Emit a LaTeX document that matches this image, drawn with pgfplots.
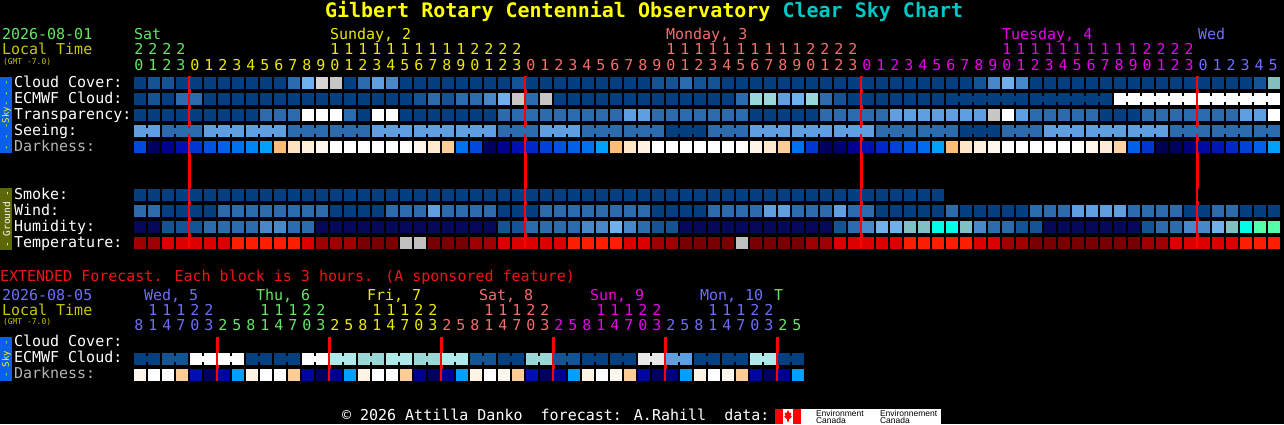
\documentclass[border=0pt]{standalone}
\usepackage{pgfplots}
\pgfplotsset{compat=1.18}
\usepackage{pgfplotstable}
\usepackage{fontspec}
\setmainfont{DejaVu Sans Mono}
\newfontfamily\logofont{Liberation Sans}
\newcommand\fs[1]{\fontsize{#1}{#1}\selectfont}

\definecolor{cD0}{RGB}{4,64,128}
\definecolor{cD1}{RGB}{20,84,148}
\definecolor{cD2}{RGB}{44,108,172}
\definecolor{cD3}{RGB}{72,136,200}
\definecolor{cD4}{RGB}{95,159,223}
\definecolor{cD5}{RGB}{112,176,236}
\definecolor{cTL}{RGB}{128,192,192}
\definecolor{cCY}{RGB}{154,216,216}
\definecolor{cLC}{RGB}{174,234,234}
\definecolor{cG7}{RGB}{198,198,198}
\definecolor{cG8}{RGB}{214,214,214}
\definecolor{cG9}{RGB}{232,232,232}
\definecolor{cNV}{RGB}{8,8,90}
\definecolor{cAQ}{RGB}{0,255,230}
\definecolor{cMN}{RGB}{84,255,170}
\definecolor{cTM}{RGB}{120,0,0}
\definecolor{cTD}{RGB}{160,0,0}
\definecolor{cTR}{RGB}{220,0,0}
\definecolor{cTB}{RGB}{255,30,0}
\definecolor{cTG}{RGB}{192,192,192}
\definecolor{satc}{RGB}{100,230,100}
\definecolor{sunc}{RGB}{235,235,0}
\definecolor{monc}{RGB}{245,110,110}
\definecolor{tuec}{RGB}{235,0,235}
\definecolor{wedc}{RGB}{110,110,250}
\definecolor{locc}{RGB}{200,200,0}
\definecolor{ttly}{RGB}{255,255,0}
\definecolor{ttlc}{RGB}{0,200,200}
\definecolor{skyb}{RGB}{10,96,235}
\definecolor{grnd}{RGB}{92,104,8}
\definecolor{extr}{RGB}{240,20,20}
\definecolor{dkl}{RGB}{180,180,180}

\pgfdeclareplotmark{blk}{\pgfpathrectangle{\pgfpoint{-6pt}{-6pt}}{\pgfpoint{12pt}{12pt}}\pgfusepath{fill}}
\pgfdeclareplotmark{con}{\pgfpathrectangle{\pgfpoint{-2.5pt}{-3pt}}{\pgfpoint{5pt}{6pt}}\pgfusepath{fill}}

% hourly forecast, column x = hour index (0 = Sat 20:00)
\pgfplotstableread{
x cc ec tr se dk sm wi hu te
0 D0 D0 D0 D4 25 D0 D2 NV TD
1 D1 D1 D0 D4 5 D0 D2 NV TD
2 D1 D0 D0 D2 10 D0 D0 D1 TR
3 D0 D2 D0 D2 15 D0 D0 D1 TR
4 D0 D2 D0 D2 22 D0 D0 D1 TR
5 D0 D0 D0 D4 27 D0 D0 D2 TR
6 D0 D0 D0 D4 30 D0 D2 D2 TR
7 D0 D0 D0 D4 33 D0 D2 D2 TB
8 D0 D0 D0 D4 36 D0 D2 D2 TB
9 D0 D0 D2 D4 40 D0 D2 D3 TB
10 D0 D0 D2 D4 55 D0 D2 D3 TB
11 D2 D0 D2 D2 70 D0 D2 D2 TB
12 D5 D0 W D2 80 D0 D2 D2 TR
13 G8 D0 W D2 90 D0 D2 NV TD
14 G7 D0 W D2 100 D0 D0 NV TD
15 D0 D0 D2 D2 100 D0 D0 NV TD
16 D2 D0 D0 D2 100 D0 D0 NV TM
17 D4 D0 W D4 100 D0 D0 NV TM
18 D3 D0 W D4 100 D0 D2 NV TM
19 D0 D0 D0 D4 100 D0 D2 NV TG
20 D0 D1 D0 D4 90 D0 D2 NV TG
21 D0 D2 D0 D4 75 D0 D4 NV TM
22 D0 D1 D0 D4 60 D0 D2 NV TM
23 D0 D2 D0 D4 33 D0 D2 NV TM
24 D0 D2 D0 D4 25 D0 D2 NV TD
25 D0 D3 D0 D4 5 D0 D2 NV TD
26 D0 D5 D2 D2 10 D0 D0 D1 TR
27 D1 G7 D2 D2 15 D0 D0 D1 TR
28 D0 D2 D2 D2 20 D0 D0 D2 TR
29 D0 G7 D2 D4 24 D0 D2 D2 TR
30 D0 D0 D2 D4 27 D0 D2 D2 TR
31 D0 D0 D2 D4 30 D0 D2 D2 TB
32 D0 D0 D2 D2 33 D0 D2 D3 TB
33 D0 D0 D2 D2 40 D0 D2 D3 TB
34 D0 D0 D2 D2 55 D0 D2 D5 TB
35 D0 D0 D4 D2 72 D0 D2 D3 TR
36 D0 D0 D4 D2 85 D0 D2 D2 TR
37 D1 D0 D2 D2 100 D0 D0 D1 TD
38 D1 D0 D2 D0 100 D0 D0 D1 TD
39 D2 D0 D2 D0 100 D0 D0 NV TM
40 D1 D0 D2 D0 100 D0 D0 NV TM
41 D1 D0 D2 D2 100 D0 D2 NV TM
42 D0 D0 D2 D2 100 D0 D2 NV TM
43 D0 D2 D2 D2 100 D0 D2 NV TG
44 D0 CY D0 D4 88 D0 D2 NV TM
45 D0 CY D0 D4 75 D0 D4 NV TM
46 D0 D4 D0 D4 60 D0 D4 NV TM
47 D0 D5 D0 D4 33 D0 D2 NV TM
48 D0 CY D0 D4 22 D0 D2 NV TD
49 D0 D2 D2 D4 5 D0 D2 NV TD
50 D0 D1 D2 D4 7 D0 D4 D1 TR
51 D0 D0 D2 D4 10 D0 D2 D2 TR
52 D0 D0 D2 D4 15 D0 D2 D3 TR
53 D0 D0 D2 D2 20 D0 D0 D5 TR
54 D0 D0 D4 D2 24 D0 D0 D5 TR
55 D0 D0 D4 D2 27 D0 D0 TL TB
56 D0 D0 D4 D2 32 D0 D0 TL TB
57 D0 D0 D4 D2 40 D0 D0 AQ TB
58 D0 D0 D4 D2 55 N D2 AQ TB
59 D0 D0 D4 D0 72 N D0 TL TB
60 D1 D0 D4 D0 82 N D0 D3 TR
61 D3 D0 G7 D0 90 N D0 D2 TR
62 D5 D0 W D2 100 N D0 D2 TD
63 D3 D0 D4 D2 100 N D0 D1 TD
64 D0 D0 D2 D2 100 N D2 D1 TM
65 D0 D0 D2 D4 100 N D2 NV TM
66 D0 D0 D2 D4 100 N D2 NV TM
67 D0 D0 D2 D4 100 N D4 NV TM
68 D0 D0 D2 D4 90 N D4 NV TM
69 D0 D0 D0 D4 78 N D4 NV TM
70 D0 W D0 D4 62 N D4 NV TM
71 D0 W D0 D4 30 N D2 NV TM
72 D0 W D2 D4 22 N D2 D1 TD
73 D0 W D2 D4 3 N D2 D2 TD
74 D0 W D2 D2 5 N D2 D2 TR
75 D0 W D2 D2 8 N D0 D3 TR
76 D0 W D2 D2 13 N D0 D3 TR
77 D0 W D2 D2 16 N D2 D5 TR
78 D0 W D2 D2 20 N D2 TL TR
79 D0 W D4 D2 24 N D0 AQ TB
80 D1 W D4 D2 30 N D0 MN TB
81 TL W W D2 40 N D0 MN TB
}\main

% extended forecast, column k = 3-hour block (0 = Wed 5, 08:00)
\pgfplotstableread{
k ec dk
0 D0 90
1 D0 100
2 D1 100
3 D1 60
4 W 15
5 W 5
6 W 12
7 W 40
8 D0 85
9 D0 100
10 D0 100
11 D0 60
12 W 12
13 W 5
14 LC 10
15 LC 40
16 CY 85
17 CY 100
18 LC 100
19 LC 60
20 CY 10
21 CY 5
22 LC 10
23 LC 40
24 D1 85
25 D1 100
26 D0 90
27 D0 60
28 CY 15
29 CY 5
30 D1 10
31 D1 40
32 D0 85
33 D0 100
34 D0 90
35 D0 60
36 G9 12
37 G9 5
38 D4 8
39 D4 40
40 D0 85
41 D0 100
42 D0 90
43 D0 60
44 LC 12
45 LC 5
46 D0 10
47 D0 40
}\ext

\pgfplotsset{
  cls/.style={scatter, only marks, point meta=explicit symbolic,
    scatter/classes={D0={fill=cD0},D1={fill=cD1},D2={fill=cD2},D3={fill=cD3},
      D4={fill=cD4},D5={fill=cD5},TL={fill=cTL},CY={fill=cCY},LC={fill=cLC},
      G7={fill=cG7},G8={fill=cG8},G9={fill=cG9},W={fill=white},NV={fill=cNV},
      AQ={fill=cAQ},MN={fill=cMN},TM={fill=cTM},TD={fill=cTD},TR={fill=cTR},
      TB={fill=cTB},TG={fill=cTG},N={fill=black}}},
  dkp/.style={scatter, only marks, mark=blk, point meta=explicit},
  midn/.style={draw=red, line width=2.8pt},
}

\begin{document}
\begin{tikzpicture}
\begin{axis}[
  scale only axis, width=1284pt, height=424pt,
  xmin=-10, xmax=81.7142857, ymin=0, ymax=424, y dir=reverse,
  axis line style={draw=none}, xtick=\empty, ytick=\empty,
  axis background/.style={fill=black},
  clip=false,
  colormap={dkm}{rgb255(0cm)=(0,0,60) rgb255(5cm)=(0,0,95) rgb255(10cm)=(0,0,140)
    rgb255(15cm)=(0,16,176) rgb255(20cm)=(0,40,200) rgb255(25cm)=(0,72,220)
    rgb255(30cm)=(0,96,232) rgb255(35cm)=(0,124,240) rgb255(40cm)=(0,160,250)
    rgb255(45cm)=(0,176,255) rgb255(50cm)=(245,160,70) rgb255(55cm)=(250,190,120)
    rgb255(62cm)=(253,210,165) rgb255(72cm)=(255,230,200) rgb255(85cm)=(255,243,230)
    rgb255(100cm)=(255,255,255)},
  point meta min=0, point meta max=100,
]
% Sky
\addplot[cls, mark=blk] table[x=x, y expr=82.5, meta=cc] {\main};
\addplot[cls, mark=blk] table[x=x, y expr=98.5, meta=ec] {\main};
\addplot[cls, mark=con] table[x expr={(\thisrow{x}>=58 && mod(\thisrow{x}-58,6)<5) ? \thisrow{x}+0.5 : nan}, y expr=98.5, meta=ec] {\main};
\addplot[cls, mark=blk] table[x=x, y expr=114.5, meta=tr] {\main};
\addplot[cls, mark=blk] table[x=x, y expr=130.5, meta=se] {\main};
\addplot[cls, mark=con] table[x expr={((\thisrow{x}==0) || (\thisrow{x}>=2 && mod(\thisrow{x}-2,3)<2 && \thisrow{x}<81)) ? \thisrow{x}+0.5 : nan}, y expr=130.5, meta=se] {\main};
\addplot[dkp] table[x=x, y expr=146.5, meta=dk] {\main};
% Ground
\addplot[cls, mark=blk] table[x=x, y expr=194.5, meta=sm] {\main};
\addplot[cls, mark=blk] table[x=x, y expr=210.5, meta=wi] {\main};
\addplot[cls, mark=blk] table[x=x, y expr=226.5, meta=hu] {\main};
\addplot[cls, mark=blk] table[x=x, y expr=242.5, meta=te] {\main};
% Extended
\addplot[cls, mark=blk] table[x=k, y expr=358.5, meta=ec] {\ext};
\addplot[cls, mark=con] table[x expr={mod(\thisrow{k},2)==0 ? \thisrow{k}+0.5 : nan}, y expr=358.5, meta=ec] {\ext};
\addplot[dkp] table[x=k, y expr=374.5, meta=dk] {\ext};
% midnight lines
\addplot[midn] coordinates {(3.55,76) (3.55,249)};
\addplot[midn] coordinates {(27.55,76) (27.55,249)};
\addplot[midn] coordinates {(51.55,76) (51.55,249)};
\addplot[midn] coordinates {(75.55,76) (75.55,249)};
\addplot[midn] coordinates {(5.55,337) (5.55,381)};
\addplot[midn] coordinates {(13.55,337) (13.55,381)};
\addplot[midn] coordinates {(21.55,337) (21.55,381)};
\addplot[midn] coordinates {(29.55,337) (29.55,381)};
\addplot[midn] coordinates {(37.55,337) (37.55,381)};
\addplot[midn] coordinates {(45.55,337) (45.55,381)};
\end{axis}

\begin{scope}[shift={(current axis.north west)}, x=1pt, y=-1pt,
  every node/.style={inner sep=0pt, outer sep=0pt, font=\fs{15}}]
% title
\node[anchor=base west, font=\fs{20}\bfseries] at (325,18)
  {\textcolor{ttly}{Gilbert Rotary Centennial Observatory} \textcolor{ttlc}{Clear Sky Chart}};
% header
\node[anchor=base west, text=satc] at (2,40) {2026-08-01};
\node[anchor=base west, text=locc] at (2,55) {Local Time};
\node[anchor=base west, text=locc, font=\fs{8}] at (3,65) {(GMT -7.0)};
\node[anchor=base west, text=satc] at (134,40) {Sat};
\node[anchor=base west, text=sunc] at (330,40) {Sunday, 2};
\node[anchor=base west, text=monc] at (666,40) {Monday, 3};
\node[anchor=base west, text=tuec] at (1002,40) {Tuesday, 4};
\node[anchor=base west, text=wedc] at (1198,40) {Wed};
\foreach \i in {0,...,81}{
  \pgfmathtruncatemacro\myhh{20+\i}
  \pgfmathtruncatemacro\myd{floor(\myhh/24)}
  \pgfmathtruncatemacro\myh{\myhh-24*\myd}
  \pgfmathtruncatemacro\myu{mod(\myh,10)}
  \pgfmathtruncatemacro\myt{floor(\myh/10)}
  \ifcase\myd \def\mycol{satc}\or\def\mycol{sunc}\or\def\mycol{monc}\or\def\mycol{tuec}\else\def\mycol{wedc}\fi
  \node[anchor=base, text=\mycol] at ({139+14*\i},71) {\myu};
  \ifnum\myh>9 \node[anchor=base, text=\mycol] at ({139+14*\i},55) {\myt};\fi
}
% row labels
\fill[skyb] (0,77) rectangle (12,153);
\node[rotate=90, text=ttly, font=\fs{9}] at (6.5,115) {- - -Sky- - -};
\fill[grnd] (0,188) rectangle (12,250);
\node[rotate=90, text=white, font=\fs{9.5}] at (6.5,219) {- Ground -};
\node[anchor=base west, text=white] at (14,87) {Cloud Cover:};
\node[anchor=base west, text=white] at (14,103) {ECMWF Cloud:};
\node[anchor=base west, text=white] at (14,119) {Transparency:};
\node[anchor=base west, text=white] at (14,135) {Seeing:};
\node[anchor=base west, text=dkl] at (14,151) {Darkness:};
\node[anchor=base west, text=white] at (14,199) {Smoke:};
\node[anchor=base west, text=white] at (14,215) {Wind:};
\node[anchor=base west, text=white] at (14,231) {Humidity:};
\node[anchor=base west, text=white] at (14,247) {Temperature:};
% extended header
\node[anchor=base west, text=extr] at (0,281) {EXTENDED Forecast. Each block is 3 hours. (A sponsored feature)};
\node[anchor=base west, text=wedc] at (2,300) {2026-08-05};
\node[anchor=base west, text=locc] at (2,315) {Local Time};
\node[anchor=base west, text=locc, font=\fs{8}] at (3,324) {(GMT -7.0)};
\node[anchor=base west, text=wedc] at (144,300) {Wed, 5};
\node[anchor=base west, text=satc] at (256,300) {Thu, 6};
\node[anchor=base west, text=sunc] at (367,300) {Fri, 7};
\node[anchor=base west, text=monc] at (479,300) {Sat, 8};
\node[anchor=base west, text=tuec] at (590,300) {Sun, 9};
\node[anchor=base west, text=wedc] at (700,300) {Mon, 10};
\node[anchor=base west, text=satc] at (774,300) {T};
\foreach \k in {0,...,47}{
  \pgfmathtruncatemacro\myhh{8+3*\k}
  \pgfmathtruncatemacro\myd{floor(\myhh/24)}
  \pgfmathtruncatemacro\myh{\myhh-24*\myd}
  \pgfmathtruncatemacro\myu{mod(\myh,10)}
  \pgfmathtruncatemacro\myt{floor(\myh/10)}
  \ifcase\myd \def\mycol{wedc}\or\def\mycol{satc}\or\def\mycol{sunc}\or\def\mycol{monc}\or\def\mycol{tuec}\or\def\mycol{wedc}\else\def\mycol{satc}\fi
  \node[anchor=base, text=\mycol] at ({139+14*\k},330) {\myu};
  \ifnum\myh>9 \node[anchor=base, text=\mycol] at ({139+14*\k},315) {\myt};\fi
}
\fill[skyb] (0,337) rectangle (12,381);
\node[rotate=90, text=ttly, font=\fs{9}] at (6.5,359) {- Sky -};
\node[anchor=base west, text=white] at (14,346) {Cloud Cover:};
\node[anchor=base west, text=white] at (14,362) {ECMWF Cloud:};
\node[anchor=base west, text=dkl] at (14,378) {Darkness:};
% footer
\node[anchor=base west, text=white] at (342,420) {© 2026 Attilla Danko\ \ forecast: A.Rahill\ \ data:};
\fill[white] (775,409) rectangle (941,424);
\fill[red] (775,409) rectangle (783,424);
\fill[red] (793,409) rectangle (801,424);
\fill[red] (788,410) -- (789.5,413) -- (791.5,412.5) -- (790.5,416) -- (792,416.5) -- (789,419.5) -- (788.5,422) -- (787.5,422) -- (787,419.5) -- (784,416.5) -- (785.5,416) -- (784.5,412.5) -- (786.5,413) -- cycle;
\node[anchor=base west, text=black, font=\logofont\fs{8.5}] at (816,416) {Environment};
\node[anchor=base west, text=black, font=\logofont\fs{8.5}] at (816,423.5) {Canada};
\node[anchor=base west, text=black, font=\logofont\fs{8.5}] at (880,416) {Environnement};
\node[anchor=base west, text=black, font=\logofont\fs{8.5}] at (880,423.5) {Canada};
\end{scope}
\pgfresetboundingbox
\path (current axis.south west) rectangle (current axis.north east);
\end{tikzpicture}
\end{document}
